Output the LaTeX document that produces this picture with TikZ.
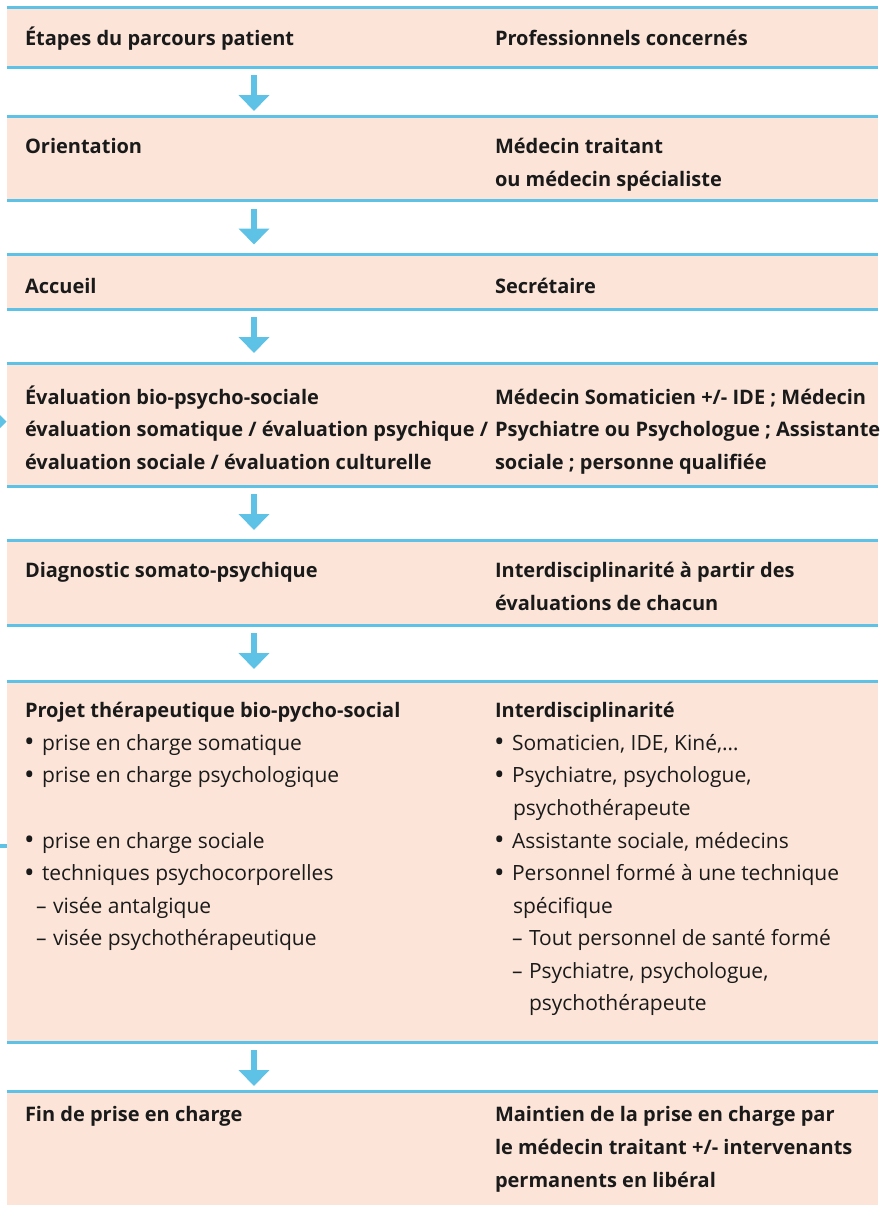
\documentclass[tikz,border=0pt]{standalone}
\usepackage{fontspec}
\setmainfont{Open Sans}
\usetikzlibrary{arrows.meta}
\definecolor{peach}{HTML}{FCE5D8}
\definecolor{skyb}{HTML}{5DC2E6}
\definecolor{ink}{HTML}{1A1A1A}
\tikzset{
  box/.style={fill=peach, draw=none, inner sep=0pt, outer sep=0pt, minimum width=871pt, anchor=north west},
  bline/.style={draw=skyb, line width=3pt},
  arr/.style={draw=skyb, line width=6.5pt, -{Triangle[width=30pt,length=16pt]}},
  tx/.style={anchor=base west, inner sep=0pt, outer sep=0pt, text=ink, font=\fontsize{21}{24}\selectfont},
  bx/.style={tx, font=\fontsize{20}{24}\selectfont\bfseries},
  bul/.style={tx, font=\fontsize{28}{28}\selectfont, yshift=-1.5pt},
}
\begin{document}
\begin{tikzpicture}[x=1pt,y=-1pt]
\useasboundingbox (0,0) rectangle (889,1205);
% boxes
\node[box, minimum height=60pt] (b1) at (7,7) {};
\node[box, minimum height=84pt] (b2) at (7,116.5) {};
\node[box, minimum height=54.5pt] (b3) at (7,254.5) {};
\node[box, minimum height=123pt] (b4) at (7,363) {};
\node[box, minimum height=85pt] (b5) at (7,540) {};
\node[box, minimum height=361pt] (b6) at (7,681) {};
\node[box, minimum height=114pt] (b7) at (7,1091) {};
\foreach \b in {b1,b2,b3,b4,b5,b6}{
  \draw[bline] (\b.north west) -- (\b.north east);
  \draw[bline] (\b.south west) -- (\b.south east);
}
\draw[bline] (b7.north west) -- (b7.north east);
% arrows
\coordinate (ax) at (254,0);
\foreach \a/\b in {b1/b2,b2/b3,b3/b4,b4/b5,b5/b6,b6/b7}{
  \draw[arr] ([yshift=-8pt]\a.south -| ax) -- ++(0,36);
}
% cut-off marks at the left edge
\fill[skyb] (0,415) -- (6.5,421.5) -- (0,428) -- cycle;
\fill[skyb] (0,843.5) rectangle (7,848);
% row 1
\node[bx] (t1l) at (25,45) {Étapes du parcours patient};
\node[bx] (t1r) at (495,45) {Professionnels concernés};
% row 2
\node[bx] (t2l) at (25,153) {Orientation};
\node[bx] (t2r1) at (495,153) {Médecin traitant};
\node[bx] (t2r2) at (495,186) {ou médecin spécialiste};
% row 3
\node[bx] (t3l) at (25,293) {Accueil};
\node[bx] (t3r) at (495,293) {Secrétaire};
% row 4
\node[bx] (t4l1) at (25,404) {Évaluation bio-psycho-sociale};
\node[bx] (t4l2) at (25,436.5) {évaluation somatique / évaluation psychique /};
\node[bx] (t4l3) at (25,469) {évaluation sociale / évaluation culturelle};
\node[bx] (t4r1) at (495,404) {Médecin Somaticien +/- IDE ; Médecin};
\node[bx] (t4r2) at (495,436.5) {Psychiatre ou Psychologue ; Assistante};
\node[bx] (t4r3) at (495,469) {sociale ; personne qualifiée};
% row 5
\node[bx] (t5l) at (25,577) {Diagnostic somato-psychique};
\node[bx] (t5r1) at (495,577) {Interdisciplinarité à partir des};
\node[bx] (t5r2) at (495,610) {évaluations de chacun};
% row 6 left
\node[bx] (t6l0) at (25,717) {Projet thérapeutique bio-pycho-social};
\node[bul] (t6lb1) at (24,750) {•};
\node[tx] (t6l1) at (42,750) {prise en charge somatique};
\node[bul] (t6lb2) at (24,782.5) {•};
\node[tx] (t6l2) at (42,782.5) {prise en charge psychologique};
\node[bul] (t6lb3) at (24,848) {•};
\node[tx] (t6l3) at (42,848) {prise en charge sociale};
\node[bul] (t6lb4) at (24,880.5) {•};
\node[tx] (t6l4) at (42,880.5) {techniques psychocorporelles};
\node[tx] (t6ld1) at (36,913) {–};
\node[tx] (t6l5) at (53,913) {visée antalgique};
\node[tx] (t6ld2) at (36,945.5) {–};
\node[tx] (t6l6) at (53,945.5) {visée psychothérapeutique};
% row 6 right
\node[bx] (t6r0) at (495,717) {Interdisciplinarité};
\node[bul] (t6rb1) at (494,750) {•};
\node[tx] (t6r1) at (512,750) {Somaticien, IDE, Kiné,…};
\node[bul] (t6rb2) at (494,782.5) {•};
\node[tx] (t6r2) at (512,782.5) {Psychiatre, psychologue,};
\node[tx] (t6r3) at (513,815) {psychothérapeute};
\node[bul] (t6rb3) at (494,848) {•};
\node[tx] (t6r4) at (512,848) {Assistante sociale, médecins};
\node[bul] (t6rb4) at (494,880.5) {•};
\node[tx] (t6r5) at (512,880.5) {Personnel formé à une technique};
\node[tx] (t6r6) at (513,913) {spécifique};
\node[tx] (t6rd1) at (512,945.5) {–};
\node[tx] (t6r7) at (529,945.5) {Tout personnel de santé formé};
\node[tx] (t6rd2) at (512,978) {–};
\node[tx] (t6r8) at (529,978) {Psychiatre, psychologue,};
\node[tx] (t6r9) at (529,1010.5) {psychothérapeute};
% row 7
\node[bx] (t7l) at (25,1121.5) {Fin de prise en charge};
\node[bx] (t7r1) at (495,1121.5) {Maintien de la prise en charge par};
\node[bx] (t7r2) at (495,1154.5) {le médecin traitant +/- intervenants};
\node[bx] (t7r3) at (495,1187) {permanents en libéral};
\end{tikzpicture}
\end{document}
